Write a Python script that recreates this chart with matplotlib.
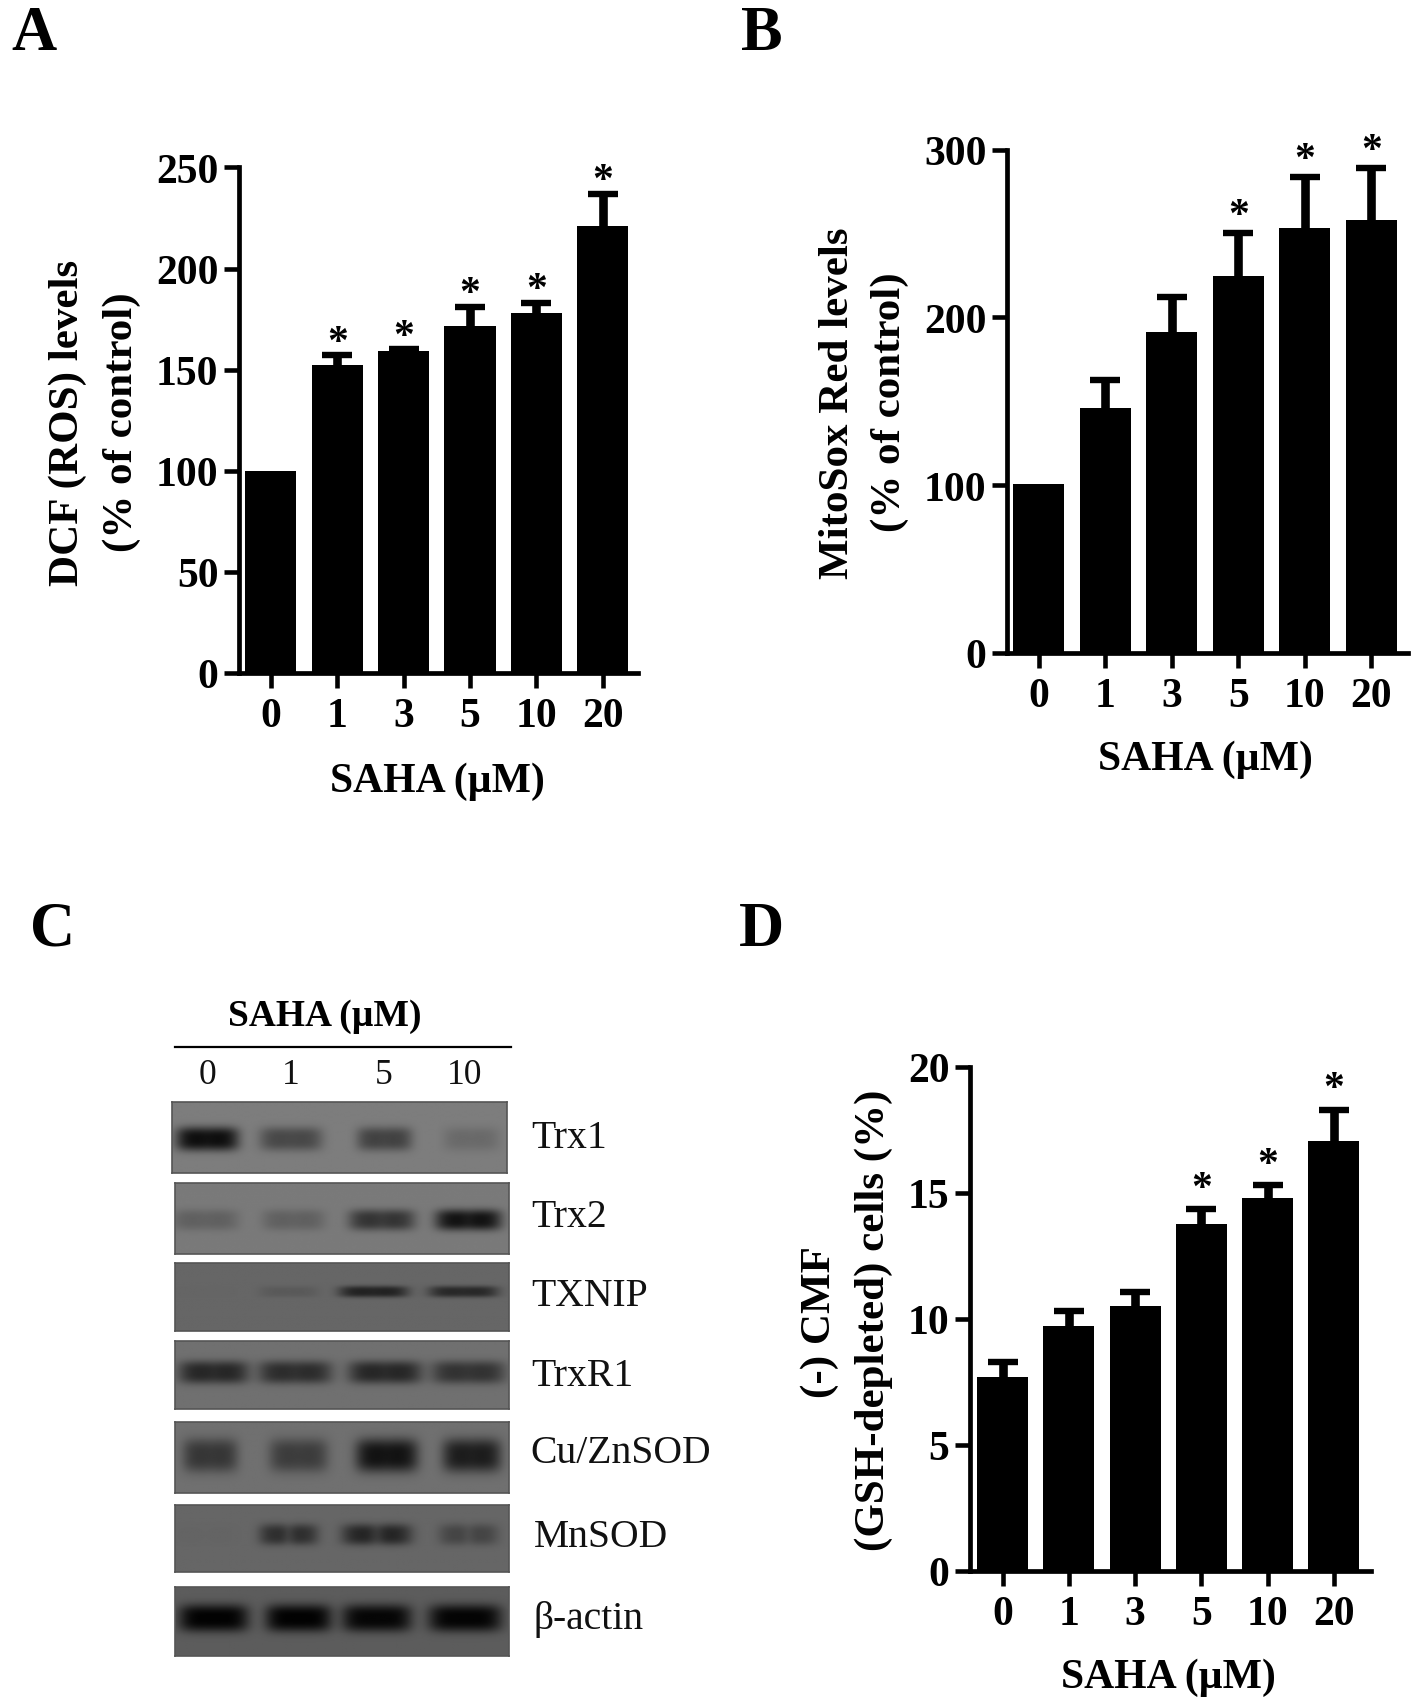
"""Rebuild the four panel SAHA figure: three bar charts and one western blot panel."""

import matplotlib

matplotlib.use("Agg")
import matplotlib.pyplot as plt
import numpy as np

WIDTH, HEIGHT = 1417, 1706
SERIF = "Liberation Serif"

doses = ["0", "1", "3", "5", "10", "20"]

dcf_means = [100, 152.5, 159, 171.5, 178, 221]
dcf_tops = [100, 157, 160, 181, 183, 237]
dcf_stars = [False, True, True, True, True, True]
dcf_ticks = [0, 50, 100, 150, 200, 250]

mitosox_means = [100.5, 146, 191, 224.5, 253, 258]
mitosox_tops = [100.5, 162.5, 212, 250.5, 283.5, 289]
mitosox_stars = [False, False, False, True, True, True]
mitosox_ticks = [0, 100, 200, 300]

cmf_means = [7.7, 9.7, 10.5, 13.75, 14.8, 17.05]
cmf_tops = [8.3, 10.3, 11.05, 14.35, 15.3, 18.3]
cmf_stars = [False, False, False, True, True, True]
cmf_ticks = [0, 5, 10, 15, 20]

blot_doses = ["0", "1", "5", "10"]
blot_names = ["Trx1", "Trx2", "TXNIP", "TrxR1", "Cu/ZnSOD", "MnSOD", "β-actin"]
blot_backgrounds = [125, 122, 102, 112, 112, 102, 92]
# darkest grey of each band, lanes left to right, read from the blot
trx1_bands = [14, 72, 66, 106]
trx2_bands = [96, 96, 52, 18]
txnip_bands = [101, 90, 34, 40]
trxr1_bands = [38, 44, 38, 50]
cuzn_bands = [54, 60, 18, 28]
mnsod_bands = [100, 46, 36, 68]
actin_bands = [2, 2, 6, 4]
# how far each row's bands sink in the middle of the lane
blot_dips = [0.03, 0.08, 0.03, 0.06, 0.03, 0.3, 0.0]

plt.rcParams["font.family"] = [SERIF, "DejaVu Serif"]
plt.rcParams["mathtext.default"] = "regular"

fig = plt.figure(figsize=(WIDTH / 100, HEIGHT / 100), dpi=100)


def px_axes(left, top, right, bottom):
    return fig.add_axes([left / WIDTH, 1 - bottom / HEIGHT, (right - left) / WIDTH, (bottom - top) / HEIGHT])


def px_text(x, y, label, **kwargs):
    kwargs.setdefault("ha", "center")
    kwargs.setdefault("va", "center")
    return fig.text(x / WIDTH, 1 - y / HEIGHT, label, **kwargs)


def bar_panel(box, xlim, means, tops, stars, yticks, star_shift):
    axis = px_axes(*box)
    positions = np.arange(len(doses))
    axis.bar(positions, means, width=0.77, color="black")
    for position, mean, top, star in zip(positions, means, tops, stars):
        if top > mean:
            axis.vlines(position, mean, top, color="black", linewidth=6.2, clip_on=False)
            axis.plot(position, top, marker="_", markersize=21, markeredgewidth=4.6, color="black", clip_on=False)
        if star:
            axis.annotate(
                "*", (position, top), xytext=(0, star_shift), textcoords="offset points", ha="center", va="bottom",
                fontsize=30, fontweight="bold", annotation_clip=False,
            )
    axis.set_xlim(*xlim)
    axis.set_ylim(yticks[0], yticks[-1])
    axis.set_xticks(positions, doses)
    axis.set_yticks(yticks)
    for side in ("top", "right"):
        axis.spines[side].set_visible(False)
    for side in ("left", "bottom"):
        axis.spines[side].set_linewidth(3.4)
    axis.tick_params(axis="both", width=3.3, length=10.8, labelsize=30)
    axis.tick_params(axis="x", pad=6.5)
    axis.tick_params(axis="y", pad=4)
    for label in axis.get_xticklabels() + axis.get_yticklabels():
        label.set_fontweight("bold")
    return axis


bar_panel((239, 168.4, 638, 674), (-0.48, 5.53), dcf_means, dcf_tops, dcf_stars, dcf_ticks, -4.5)
bar_panel((1007, 150.6, 1407.6, 653.8), (-0.477, 5.547), mitosox_means, mitosox_tops, mitosox_stars, mitosox_ticks, -1.4)
bar_panel((970, 1068, 1371, 1571.5), (-0.494, 5.563), cmf_means, cmf_tops, cmf_stars, cmf_ticks, 1)

# axis titles
bold = {"fontweight": "bold", "fontsize": 30}
px_text(437, 782, "SAHA (µM)", **bold)
px_text(1205, 760, "SAHA (µM)", **bold)
px_text(1168, 1678, "SAHA (µM)", **bold)
side = {"fontweight": "bold", "fontsize": 31, "rotation": 90}
px_text(68, 423, "DCF (ROS) levels", **side)
px_text(122, 422, "(% of control)", **side)
px_text(838, 403, "MitoSox Red levels", **side)
px_text(890, 402, "(% of control)", **side)
px_text(820, 1322, "(-) CMF", **side)
px_text(874, 1320, "(GSH-depleted) cells (%)", **side)

# panel letters
letters = {"fontweight": "bold", "fontsize": 45, "ha": "left", "va": "baseline"}
px_text(11, 50, "A", **letters)
px_text(741, 50, "B", **letters)
px_text(30, 946, "C", **letters)
px_text(739, 946, "D", **letters)

# western blots
blot_rows = [trx1_bands, trx2_bands, txnip_bands, trxr1_bands, cuzn_bands, mnsod_bands, actin_bands]
blot_boxes = [
    (172, 1103, 507, 1174), (175, 1184, 509, 1255), (175, 1264, 509, 1332), (175, 1342, 509, 1410),
    (175, 1423, 509, 1494), (175, 1506, 509, 1573), (175, 1588, 509, 1657),
]
# lane edges as fractions of the strip, then band centre and spread in height
blot_lanes = [
    [(0.02, 0.19), (0.27, 0.44), (0.56, 0.71), (0.82, 0.97)],
    [(0.0, 0.18), (0.27, 0.44), (0.53, 0.71), (0.79, 0.97)],
    [(0.0, 0.18), (0.26, 0.42), (0.50, 0.69), (0.77, 0.96)],
    [(0.02, 0.21), (0.26, 0.46), (0.53, 0.73), (0.78, 0.98)],
    [(0.03, 0.18), (0.29, 0.45), (0.55, 0.72), (0.81, 0.97)],
    [(0.0, 0.18), (0.26, 0.42), (0.51, 0.70), (0.80, 0.96)],
    [(0.02, 0.21), (0.28, 0.46), (0.51, 0.70), (0.77, 0.97)],
]
band_rows = [(0.52, 0.17), (0.52, 0.15), (0.42, 0.085), (0.46, 0.17), (0.47, 0.24), (0.44, 0.16), (0.45, 0.2)]

for peaks, background, box, lanes, band, dip in zip(
    blot_rows, blot_backgrounds, blot_boxes, blot_lanes, band_rows, blot_dips
):
    axis = px_axes(*box)
    grid_x, grid_y = np.meshgrid(np.linspace(0, 1, 340), np.linspace(0, 1, 72))
    image = np.full(grid_x.shape, float(background))
    for peak, (start, stop) in zip(peaks, lanes):
        centre = (start + stop) / 2
        half = (stop - start) / 2
        across = np.exp(-(np.abs(grid_x - centre) / (half * 1.1)) ** 5)
        across *= 1 - dip * np.exp(-(((grid_x - centre) / (half * 0.25)) ** 2))
        down = np.exp(-(np.abs(grid_y - band[0]) / band[1]) ** 3)
        image -= (background - peak) * across * down
    axis.imshow(image, cmap="gray", vmin=0, vmax=255, aspect="auto", interpolation="bilinear")
    axis.set_xticks([])
    axis.set_yticks([])
    for spine in axis.spines.values():
        spine.set_color("#555555")
        spine.set_linewidth(1.2)

blot_label_x = [531, 531, 531, 531, 530, 534, 533]
blot_label_y = [1138, 1218, 1297, 1376, 1454, 1538, 1620]
for name, x, y in zip(blot_names, blot_label_x, blot_label_y):
    px_text(x, y, name, ha="left", fontsize=28.5, color="#111111")

for label, x in zip(blot_doses, [208, 291, 384, 465]):
    px_text(x, 1076, label, fontsize=25.5, color="#111111")

px_text(325, 1016, "SAHA (µM)", fontweight="bold", fontsize=27)
fig.add_artist(plt.Line2D([175 / WIDTH, 511 / WIDTH], [1 - 1048 / HEIGHT] * 2, color="black", linewidth=1.6))

fig.savefig("out.png", dpi=100)
plt.close(fig)
